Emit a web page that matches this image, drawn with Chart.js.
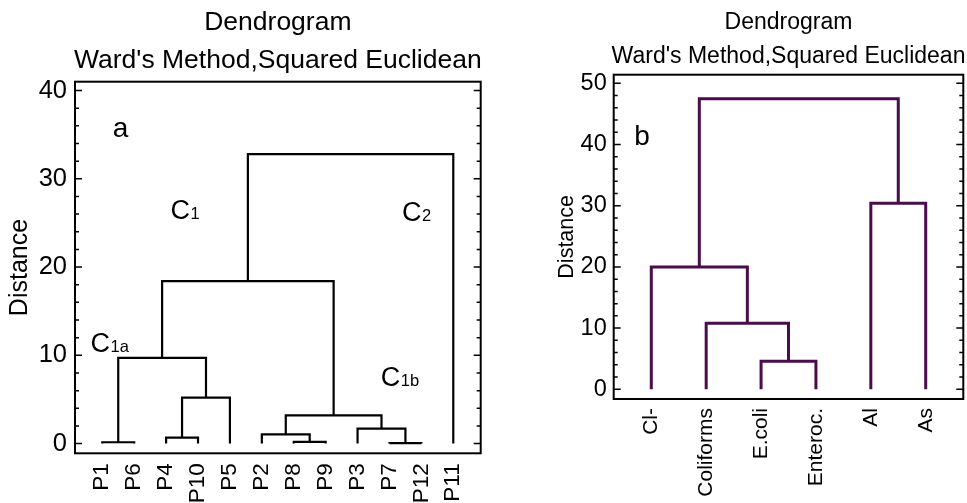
<!DOCTYPE html>
<html><head><meta charset="utf-8">
<script src="https://cdn.jsdelivr.net/npm/chart.js@4"></script>
<style>
html,body{margin:0;padding:0;background:#fff;}
#wrap{position:relative;width:967px;height:503px;overflow:hidden;background:#fff;}
#ca{position:absolute;left:0;top:0;}
#cb{position:absolute;left:500px;top:0;}
</style></head><body>
<div id="wrap"><canvas id="ca" width="490" height="503"></canvas><canvas id="cb" width="467" height="503"></canvas></div>
<script>
// ---------- data ----------
const titleLines = ['Dendrogram', "Ward's Method,Squared Euclidean"];
const axisTitle = 'Distance';

const leavesA = ['P1','P6','P4','P10','P5','P2','P8','P9','P3','P7','P12','P11'];
// merges: [childA, childB, height]; ids < leaves.length are leaves, larger ids are earlier merges
const mergesA = [[0,1,0.15],[2,3,0.68],[13,4,5.2],[12,14,9.7],[6,7,0.2],[5,16,1.05],[9,10,0.05],[8,18,1.7],[17,19,3.2],[15,20,18.4],[21,11,32.8]];
const yTicksA = [0,10,20,30,40];

const leavesB = ['Cl-','Coliforms','E.coli','Enteroc.','Al','As'];
const mergesB = [[2,3,4.6],[1,6,10.8],[0,7,20.0],[4,5,30.4],[8,9,47.5]];
const yTicksB = [0,10,20,30,40,50];

// annotation texts (main + subscript), anchored in data units
const notesA = [
  {t:'a', s:'', x:0.33, y:34.7, big:true},
  {t:'C', s:'1', x:2.14, y:25.4},
  {t:'C', s:'2', x:9.39, y:25.2},
  {t:'C', s:'1a', x:-0.37, y:10.35},
  {t:'C', s:'1b', x:8.73, y:6.5}
];
const notesB = [{t:'b', s:'', x:-0.31, y:39.9, big:true}];

// ---------- helpers ----------
const FONT = "'Liberation Sans', Arial, sans-serif";
function buildLinks(leaves, merges){
  const xs = leaves.map((_, i) => i);
  const hs = leaves.map(() => 0);
  return merges.map(([a, b, h]) => {
    const xa = xs[a], xb = xs[b];
    const d = [{x:xa, y:hs[a]}, {x:xa, y:h}, {x:xb, y:h}, {x:xb, y:hs[b]}];
    xs.push((xa + xb) / 2); hs.push(h);
    return d;
  });
}

function framePlugin(c){
  return {
    id: 'frame',
    afterDraw(chart){
      const {ctx, chartArea: a, scales: {x, y}} = chart;
      ctx.save();
      ctx.strokeStyle = '#000';
      // inward ticks on left and right borders
      const ticks = c.yTicks;
      const step = (ticks[1] - ticks[0]) / 5;
      ctx.lineWidth = 1.5;
      for (let k = 0; ticks[0] + k * step <= ticks[ticks.length-1] + 1e-9; k++){
        const v = ticks[0] + k * step;
        const py = y.getPixelForValue(v);
        const L = (k % 5 === 0) ? c.major : c.minor;
        ctx.beginPath();
        ctx.moveTo(a.left, py); ctx.lineTo(a.left + L, py);
        ctx.moveTo(a.right, py); ctx.lineTo(a.right - L, py);
        ctx.stroke();
      }
      // frame
      ctx.lineWidth = 2;
      ctx.strokeRect(a.left, a.top, a.right - a.left, a.bottom - a.top);
      // titles
      ctx.fillStyle = '#000';
      ctx.textAlign = 'center';
      ctx.textBaseline = 'alphabetic';
      ctx.font = c.titleSize + 'px ' + FONT;
      const cx = (a.left + a.right) / 2;
      ctx.fillText(titleLines[0], cx, a.top - c.t1);
      ctx.fillText(titleLines[1], cx, a.top - c.t2);
      // annotations
      ctx.textAlign = 'left';
      c.notes.forEach(n => {
        const px = x.getPixelForValue(n.x), py = y.getPixelForValue(n.y);
        ctx.font = (n.big ? c.bigSize : c.noteSize) + 'px ' + FONT;
        ctx.fillText(n.t, px, py);
        if (n.s){
          const w = ctx.measureText(n.t).width;
          ctx.font = c.subSize + 'px ' + FONT;
          ctx.fillText(n.s, px + w + 0.5, py);
        }
      });
      ctx.restore();
    }
  };
}

function makeChart(el, o){
  const links = buildLinks(o.leaves, o.merges);
  return new Chart(el, {
    type: 'scatter',
    data: {
      datasets: links.map(d => ({
        data: d, showLine: true, borderColor: o.color, borderWidth: o.lineW,
        pointRadius: 0, pointHoverRadius: 0, tension: 0, fill: false,
        borderJoinStyle: 'miter', borderCapStyle: 'butt'
      }))
    },
    options: {
      responsive: false, animation: false, devicePixelRatio: 1,
      layout: {padding: o.pad},
      plugins: {legend: {display: false}, tooltip: {enabled: false}, title: {display: false}},
      events: [],
      scales: {
        x: {
          type: 'linear', min: o.xMin, max: o.xMax,
          grid: {display: false, drawTicks: false}, border: {display: false},
          afterBuildTicks: s => { s.ticks = o.leaves.map((_, i) => ({value: i})); },
          afterFit: s => { s.height = o.xH; s.paddingLeft = 0; s.paddingRight = 0; },
          ticks: {
            autoSkip: false, minRotation: 90, maxRotation: 90, padding: o.xPad, color: '#000',
            font: {family: FONT, size: o.xFont},
            callback: v => o.leaves[v]
          }
        },
        y: {
          type: 'linear', min: o.yMin, max: o.yMax,
          grid: {display: false, drawTicks: false}, border: {display: false},
          afterBuildTicks: s => { s.ticks = o.yTicks.map(v => ({value: v})); },
          afterFit: s => { s.width = o.yW; s.paddingTop = 0; s.paddingBottom = 0; },
          ticks: {padding: o.yPad, color: '#000', font: {family: FONT, size: o.yFont}},
          title: {display: true, text: axisTitle, color: '#000', padding: {top: o.titlePad, bottom: 0},
                  font: {family: FONT, size: o.yTitleFont}}
        }
      }
    },
    plugins: [framePlugin({yTicks: o.yTicks, major: 7, minor: 4, titleSize: o.titleSize,
      t1: o.t1, t2: o.t2, notes: o.notes, noteSize: 27, subSize: 16.5, bigSize: 28})]
  });
}

makeChart(document.getElementById('ca'), {
  leaves: leavesA, merges: mergesA, yTicks: yTicksA, notes: notesA,
  color: '#000', lineW: 2.2,
  pad: {left: 0, top: 81.7, right: 9.3, bottom: 0},
  xMin: -0.855, xMax: 11.859, yMin: -1.1, yMax: 41.0,
  xH: 49.7, yW: 75, xPad: 10, yPad: 8, xFont: 22.5, yFont: 25.5,
  yTitleFont: 25, titlePad: 5.2, titleSize: 26.5, t1: 52.2, t2: 13.7
});

makeChart(document.getElementById('cb'), {
  leaves: leavesB, merges: mergesB, yTicks: yTicksB, notes: notesB,
  color: '#4b0c4b', lineW: 3,
  pad: {left: 50, top: 74.7, right: 3.7, bottom: 0},
  xMin: -0.685, xMax: 5.685, yMin: -1.585, yMax: 51.41,
  xH: 104, yW: 63.7, xPad: 9, yPad: 7, xFont: 21, yFont: 23.5,
  yTitleFont: 21.5, titlePad: 4, titleSize: 23, t1: 45.4, t2: 12
});
</script>
</body></html>
